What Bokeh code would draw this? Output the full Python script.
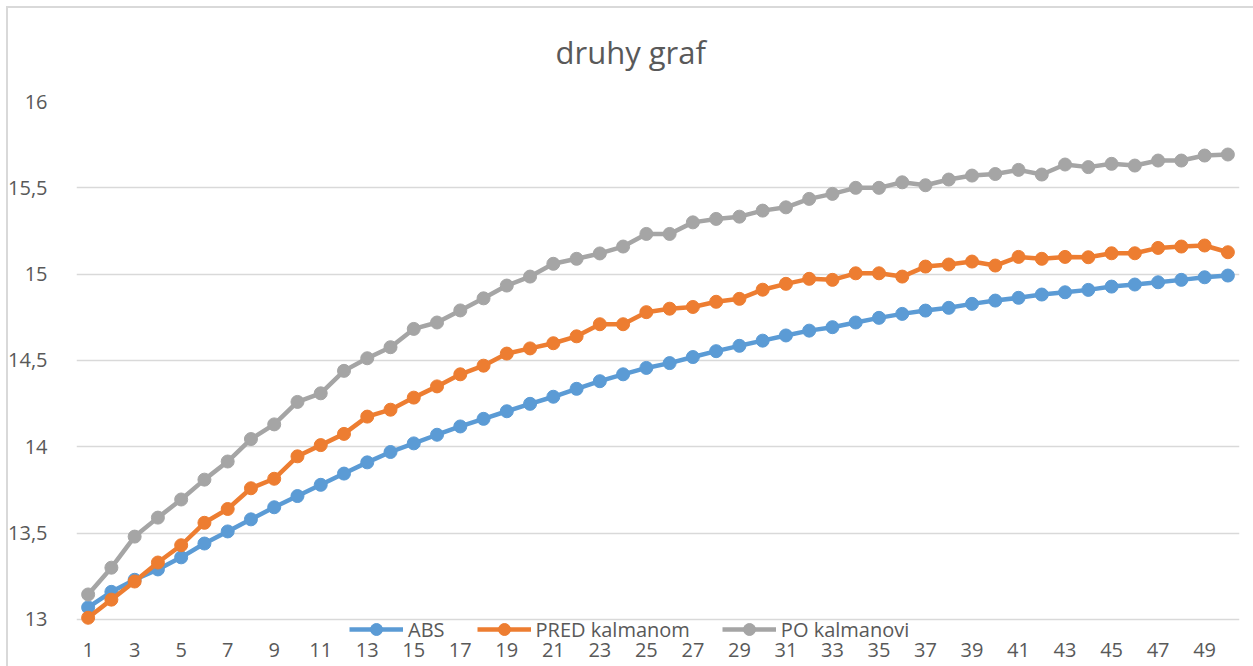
from bokeh.plotting import figure
from bokeh.models import (Legend, LegendItem, FixedTicker, CustomJSTickFormatter, Range1d)
from bokeh.embed import file_html
from bokeh.resources import INLINE

x = list(range(1, 51))
x_ticks = list(range(1, 50, 2))
y_ticks = [13, 13.5, 14, 14.5, 15, 15.5, 16]

abs_vals = [13.07, 13.16, 13.23, 13.29, 13.36, 13.44, 13.51, 13.58, 13.65, 13.715,
            13.78, 13.845, 13.91, 13.97, 14.02, 14.07, 14.118, 14.162, 14.206, 14.249,
            14.29, 14.336, 14.38, 14.42, 14.457, 14.485, 14.52, 14.554, 14.585, 14.615,
            14.645, 14.673, 14.693, 14.72, 14.747, 14.77, 14.789, 14.805, 14.828, 14.847,
            14.863, 14.882, 14.895, 14.909, 14.928, 14.94, 14.953, 14.967, 14.982, 14.992]

pred_vals = [13.01, 13.115, 13.22, 13.33, 13.43, 13.56, 13.64, 13.76, 13.815, 13.945,
             14.01, 14.075, 14.175, 14.215, 14.285, 14.35, 14.42, 14.47, 14.54, 14.57,
             14.60, 14.64, 14.71, 14.71, 14.78, 14.80, 14.81, 14.84, 14.857, 14.91,
             14.944, 14.973, 14.967, 15.005, 15.005, 14.986, 15.044, 15.056, 15.073, 15.05,
             15.10, 15.089, 15.10, 15.098, 15.121, 15.121, 15.152, 15.16, 15.166, 15.127]

po_vals = [13.145, 13.30, 13.48, 13.59, 13.695, 13.81, 13.915, 14.045, 14.13, 14.26,
           14.31, 14.44, 14.513, 14.577, 14.683, 14.72, 14.79, 14.86, 14.934, 14.986,
           15.06, 15.089, 15.12, 15.16, 15.233, 15.233, 15.30, 15.32, 15.333, 15.368,
           15.387, 15.436, 15.465, 15.50, 15.50, 15.532, 15.515, 15.548, 15.571, 15.58,
           15.604, 15.577, 15.635, 15.62, 15.639, 15.629, 15.658, 15.658, 15.687, 15.693]

series_names = ["ABS", "PRED kalmanom", "PO kalmanovi"]
series_colors = ["#5B9BD5", "#ED7D31", "#A5A5A5"]
title_text = "druhy graf"

FONT = "Open Sans"
TXT = "#595959"

p = figure(width=1253, height=666, output_backend="svg", toolbar_location=None,
           x_range=Range1d(0.5, 50.5), y_range=Range1d(12.8436, 16),
           min_border_left=76, min_border_right=14, min_border_top=101, min_border_bottom=20,
           title=title_text)
p.outline_line_color = None
p.background_fill_color = "white"
p.border_fill_alpha = 0
p.styles = {
    "background": ("linear-gradient(#D9D9D9, #D9D9D9) 6px 6px / 100% 2px no-repeat, "
                   "linear-gradient(#D9D9D9, #D9D9D9) 6px 6px / 2px 100% no-repeat, white"),
}

p.title.text_font = FONT
p.title.text_font_size = "31px"
p.title.text_font_style = "normal"
p.title.text_color = TXT
p.title.align = "left"
p.title.offset = 479
p.title.standoff = 57

# axes
p.xaxis.ticker = FixedTicker(ticks=x_ticks)
p.xaxis.major_tick_line_color = None
p.xaxis.minor_tick_line_color = None
p.xaxis.axis_line_color = None
p.xaxis.major_label_text_font = FONT
p.xaxis.major_label_text_font_size = "20px"
p.xaxis.major_label_text_color = TXT
p.xaxis.major_label_standoff = -10

p.yaxis.ticker = FixedTicker(ticks=y_ticks)
p.yaxis.formatter = CustomJSTickFormatter(code="return tick.toString().replace('.', ',');")
p.yaxis.major_tick_line_color = None
p.yaxis.minor_tick_line_color = None
p.yaxis.axis_line_color = None
p.yaxis.major_label_text_font = FONT
p.yaxis.major_label_text_font_size = "20px"
p.yaxis.major_label_text_color = TXT
p.yaxis.major_label_standoff = 23

p.xgrid.grid_line_color = None
p.ygrid.grid_line_color = "#D9D9D9"
p.ygrid.grid_line_width = 1.5

items = []
for name, vals, col in zip(series_names, [abs_vals, pred_vals, po_vals], series_colors):
    l = p.line(x, vals, line_color=col, line_width=4.5)
    s = p.scatter(x, vals, size=13, fill_color=col, line_color=col)
    items.append(LegendItem(label=name, renderers=[l, s]))

legend = Legend(items=items, orientation="horizontal", location=(273, 2),
                glyph_width=54, glyph_height=30, label_height=20, label_standoff=5,
                spacing=32, padding=0, margin=0, border_line_color=None,
                background_fill_alpha=0, label_text_font=FONT,
                label_text_font_size="20px", label_text_color=TXT)
p.add_layout(legend, "center")

open("out.html", "w").write(file_html(p, INLINE))
